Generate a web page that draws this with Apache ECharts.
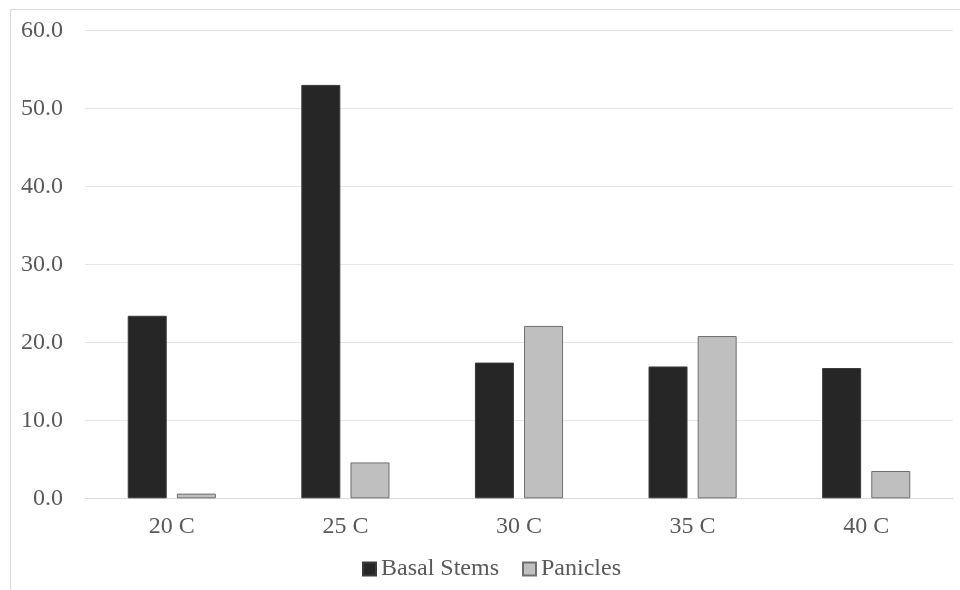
<!DOCTYPE html>
<html>
<head>
<meta charset="utf-8">
<script src="https://cdn.jsdelivr.net/npm/echarts@6/dist/echarts.min.js"></script>
<style>
  html, body { margin: 0; padding: 0; background: #fff; }
  #chart { width: 960px; height: 590px; }
</style>
</head>
<body>
<div id="chart"></div>
<script>
// Temperatures on the category axis
const categories = ['20 C', '25 C', '30 C', '35 C', '40 C'];
// Values per plant part
const basalStems = [23.4, 53.0, 17.4, 16.9, 16.7];
const panicles = [0.6, 4.6, 22.1, 20.8, 3.5];
// Value axis range
const yMin = 0, yMax = 60, yStep = 10;

const font = 'Liberation Serif, Times New Roman, serif';
const chart = echarts.init(document.getElementById('chart'));
chart.setOption({
  animation: false,
  backgroundColor: '#fff',
  graphic: [{
    type: 'rect',
    shape: { x: 10.5, y: 9.5, width: 1000, height: 1000 },
    style: { fill: 'none', stroke: '#d9d9d9', lineWidth: 1 },
    silent: true
  }],
  grid: { left: 85, right: 7, top: 30.3, bottom: 91.7 },
  legend: {
    bottom: 4,
    left: 357,
    itemWidth: 13,
    itemHeight: 13,
    itemGap: 23,
    icon: 'rect',
    textStyle: { fontFamily: font, fontSize: 24, color: '#595959' },
    data: ['Basal Stems', 'Panicles']
  },
  xAxis: {
    type: 'category',
    data: categories,
    axisLine: { lineStyle: { color: '#d9d9d9', width: 1 } },
    axisTick: { show: false },
    axisLabel: { fontFamily: font, fontSize: 24, color: '#595959', margin: 16 }
  },
  yAxis: {
    type: 'value',
    min: yMin, max: yMax, interval: yStep,
    axisLine: { show: false },
    axisTick: { show: false },
    splitLine: { lineStyle: { color: '#e6e6e6', width: 1 } },
    axisLabel: {
      fontFamily: font, fontSize: 24, color: '#595959', margin: 22,
      formatter: v => v.toFixed(1)
    }
  },
  series: [
    {
      name: 'Basal Stems',
      type: 'bar',
      data: basalStems,
      barWidth: 39,
      barGap: '26%',
      itemStyle: { color: '#262626', borderColor: '#3a3a3a', borderWidth: 1 }
    },
    {
      name: 'Panicles',
      type: 'bar',
      data: panicles,
      barWidth: 39,
      itemStyle: { color: '#bfbfbf', borderColor: '#6e6e6e', borderWidth: 1 }
    }
  ]
});
</script>
</body>
</html>
